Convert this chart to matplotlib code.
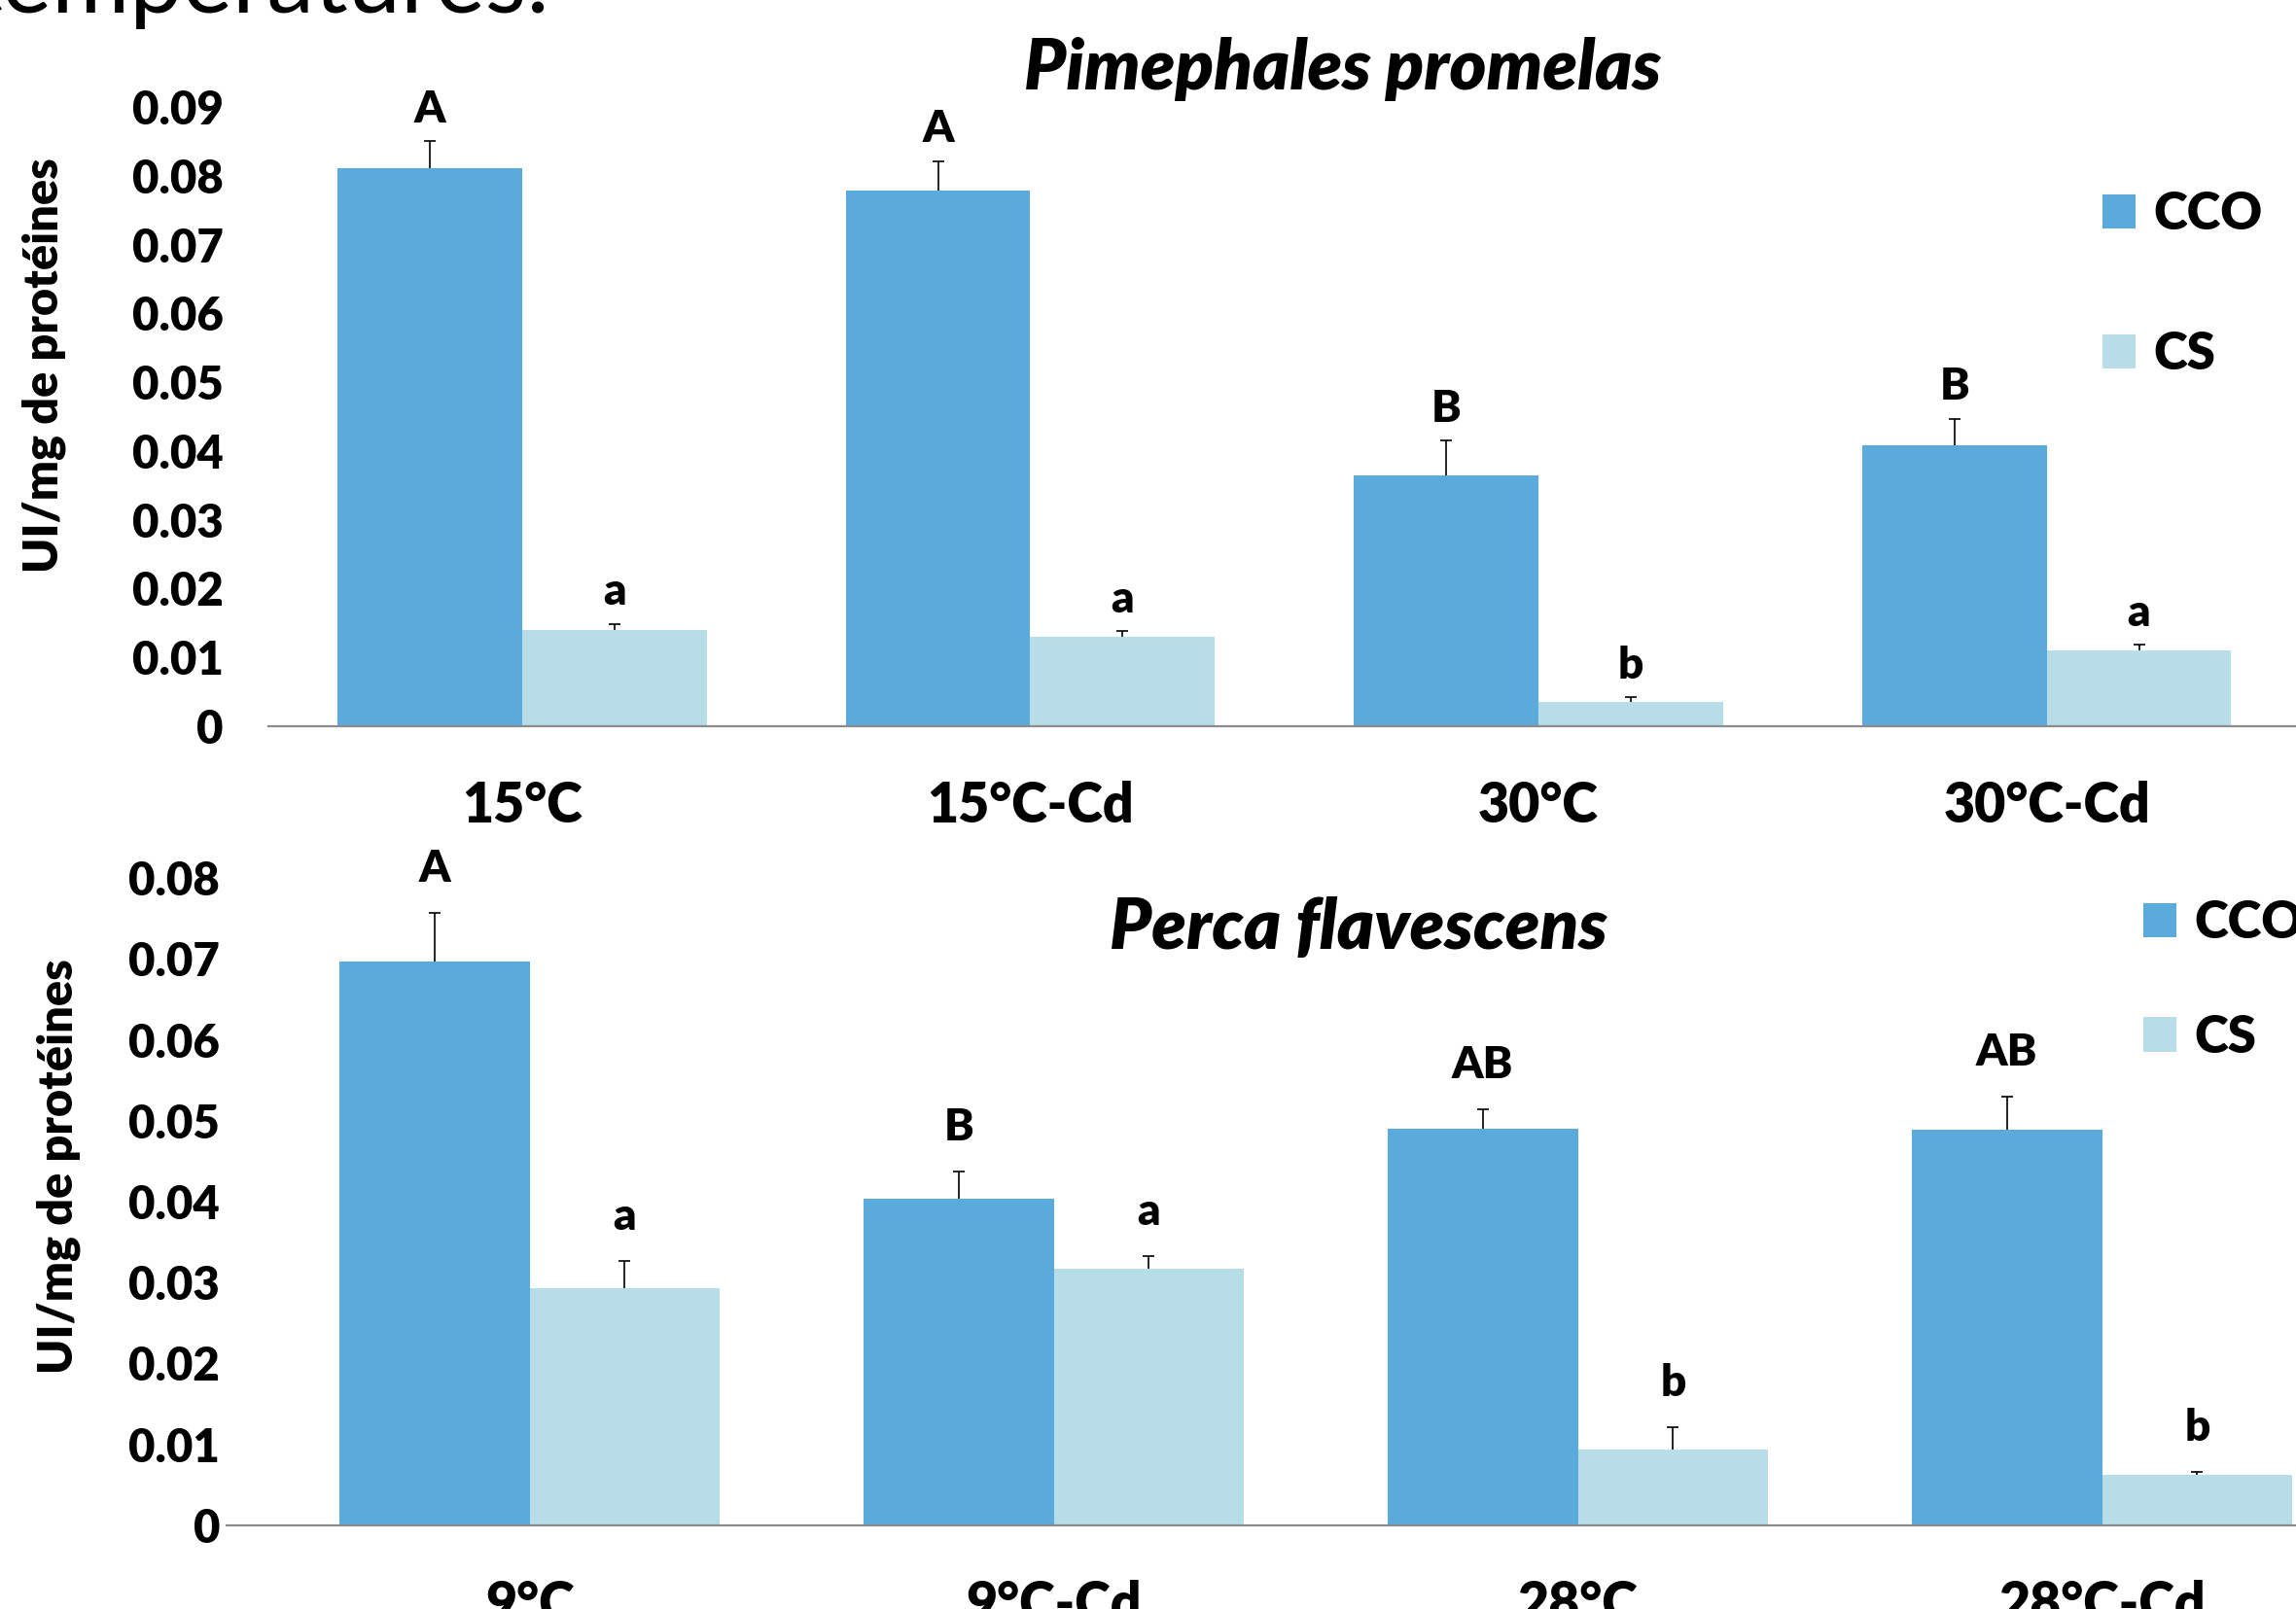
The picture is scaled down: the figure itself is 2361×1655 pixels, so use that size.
import matplotlib
matplotlib.use("Agg")
import matplotlib.pyplot as plt
from matplotlib.patches import Patch
from matplotlib.ticker import FuncFormatter, MultipleLocator
import numpy as np

plt.rcParams['font.family'] = ['Lato', 'DejaVu Sans']

# ---------------- data ----------------
top_title = "Pimephales promelas"
top_categories = ["15°C", "15°C-Cd", "30°C", "30°C-Cd"]
top_cco = [0.0811, 0.0779, 0.0364, 0.0409]
top_cco_err = [0.0039, 0.0042, 0.0051, 0.0038]
top_cs = [0.0140, 0.0130, 0.0036, 0.0110]
top_cs_err = [0.0009, 0.0008, 0.0006, 0.0008]
top_cco_letters = ["A", "A", "B", "B"]
top_cs_letters = ["a", "a", "b", "a"]

bottom_title = "Perca flavescens"
bottom_categories = ["9°C", "9°C-Cd", "28°C", "28°C-Cd"]
bottom_cco = [0.0697, 0.0404, 0.0490, 0.0489]
bottom_cco_err = [0.0060, 0.0033, 0.0024, 0.0041]
bottom_cs = [0.0293, 0.0317, 0.0094, 0.0062]
bottom_cs_err = [0.0034, 0.0016, 0.0027, 0.0004]
bottom_cco_letters = ["A", "B", "AB", "AB"]
bottom_cs_letters = ["a", "a", "b", "b"]

series_names = ["CCO", "CS"]
ylabel = "UI/mg de protéines"
slide_text = "températures:"

# ---------------- style ----------------
C_CCO = "#5AAADB"
C_CS = "#B7DEE8"
W, H = 2361, 1655
DPI = 100
BOLD = 800

fig = plt.figure(figsize=(W / DPI, H / DPI), dpi=DPI)


def fx(px):
    return px / W


def fy(py):
    return 1 - py / H


def plus_only_bars(ax, xs, vals, errs, color):
    ekw = dict(ecolor="black", elinewidth=1.2, capsize=4.5, capthick=1.2)
    cont = ax.bar(xs, vals, 0.363, color=color,
                  yerr=[np.zeros(len(vals)), errs], error_kw=ekw, zorder=2)
    # hide the cap sitting on the bar top (plus-only error bars)
    for cl in cont.errorbar.lines[1]:
        if np.allclose(cl.get_ydata(), vals):
            cl.set_visible(False)
    return cont


def panel(rect, cats, cco, cco_err, cs, cs_err, l_cco, l_cs, ymax, xlim,
          ytickpad, letter_off):
    ax = fig.add_axes(rect)
    x = np.arange(len(cats))
    w = 0.363
    plus_only_bars(ax, x - w / 2, cco, cco_err, C_CCO)
    plus_only_bars(ax, x + w / 2, cs, cs_err, C_CS)
    for i in range(len(cats)):
        ax.annotate(l_cco[i], xy=(x[i] - w / 2, cco[i] + cco_err[i]),
                    xytext=(0, letter_off), textcoords="offset points",
                    ha="center", va="baseline", fontsize=33,
                    fontweight=BOLD, annotation_clip=False)
        ax.annotate(l_cs[i], xy=(x[i] + w / 2, cs[i] + cs_err[i]),
                    xytext=(0, letter_off), textcoords="offset points",
                    ha="center", va="baseline", fontsize=33,
                    fontweight=BOLD, annotation_clip=False)
    ax.set_ylim(0, ymax)
    ax.set_xlim(*xlim)
    ax.yaxis.set_major_locator(MultipleLocator(0.01))
    ax.yaxis.set_major_formatter(
        FuncFormatter(lambda v, p: "0" if abs(v) < 1e-9 else f"{v:.2f}"))
    ax.set_xticks(x)
    ax.set_xticklabels(cats)
    for s in ["left", "top", "right"]:
        ax.spines[s].set_visible(False)
    ax.spines["bottom"].set_color("#8c8c8c")
    ax.spines["bottom"].set_linewidth(1.6)
    ax.tick_params(axis="y", length=0, pad=ytickpad, labelsize=34)
    ax.tick_params(axis="x", length=0, pad=40, labelsize=40)
    for t in ax.get_yticklabels() + ax.get_xticklabels():
        t.set_fontweight(BOLD)
    return ax


# top panel: zero at y=747px, 0.09 at 110px, left 275.5px
ax1 = panel([fx(275.5), fy(747), fx(2366) - fx(275.5), (747 - 110) / H],
            top_categories, top_cco, top_cco_err, top_cs, top_cs_err,
            top_cco_letters, top_cs_letters, 0.09, (-0.5, 3.5), 33, 14)

# bottom panel: zero at 1569px, 0.08 at 903px, left 233px
ax2 = panel([fx(233), fy(1569), (4.156 * 539) / W, (1569 - 903) / H],
            bottom_categories, bottom_cco, bottom_cco_err, bottom_cs,
            bottom_cs_err, bottom_cco_letters, bottom_cs_letters, 0.08,
            (-0.578, 3.578), 5, 23)

# titles
fig.text(fx(1381), fy(71), top_title, ha="center", va="center",
         fontsize=52, fontweight=BOLD, fontstyle="italic")
fig.text(fx(1397), fy(955), bottom_title, ha="center", va="center",
         fontsize=52, fontweight=BOLD, fontstyle="italic")

# y labels
fig.text(fx(45), fy(376), ylabel, rotation=90, ha="center", va="center",
         fontsize=35, fontweight=BOLD)
fig.text(fx(60), fy(1200), ylabel, rotation=90, ha="center", va="center",
         fontsize=35, fontweight=BOLD)

# partial slide text at the very top
fig.text(fx(566), fy(13), slide_text, ha="right", va="baseline",
         fontsize=70)

# legends
handles = [Patch(facecolor=C_CCO, edgecolor="none"),
           Patch(facecolor=C_CS, edgecolor="none")]
fig.legend(handles, series_names, loc="upper left",
           bbox_to_anchor=(fx(2162), fy(196)), frameon=False,
           prop=dict(size=38, weight=BOLD), handlelength=0.65,
           handleheight=0.65, handletextpad=0.35, labelspacing=1.8,
           borderpad=0, borderaxespad=0)
fig.legend(handles, series_names, loc="upper left",
           bbox_to_anchor=(fx(2204), fy(925)), frameon=False,
           prop=dict(size=38, weight=BOLD), handlelength=0.65,
           handleheight=0.65, handletextpad=0.35, labelspacing=1.3,
           borderpad=0, borderaxespad=0)

fig.savefig("out.png", dpi=DPI)
